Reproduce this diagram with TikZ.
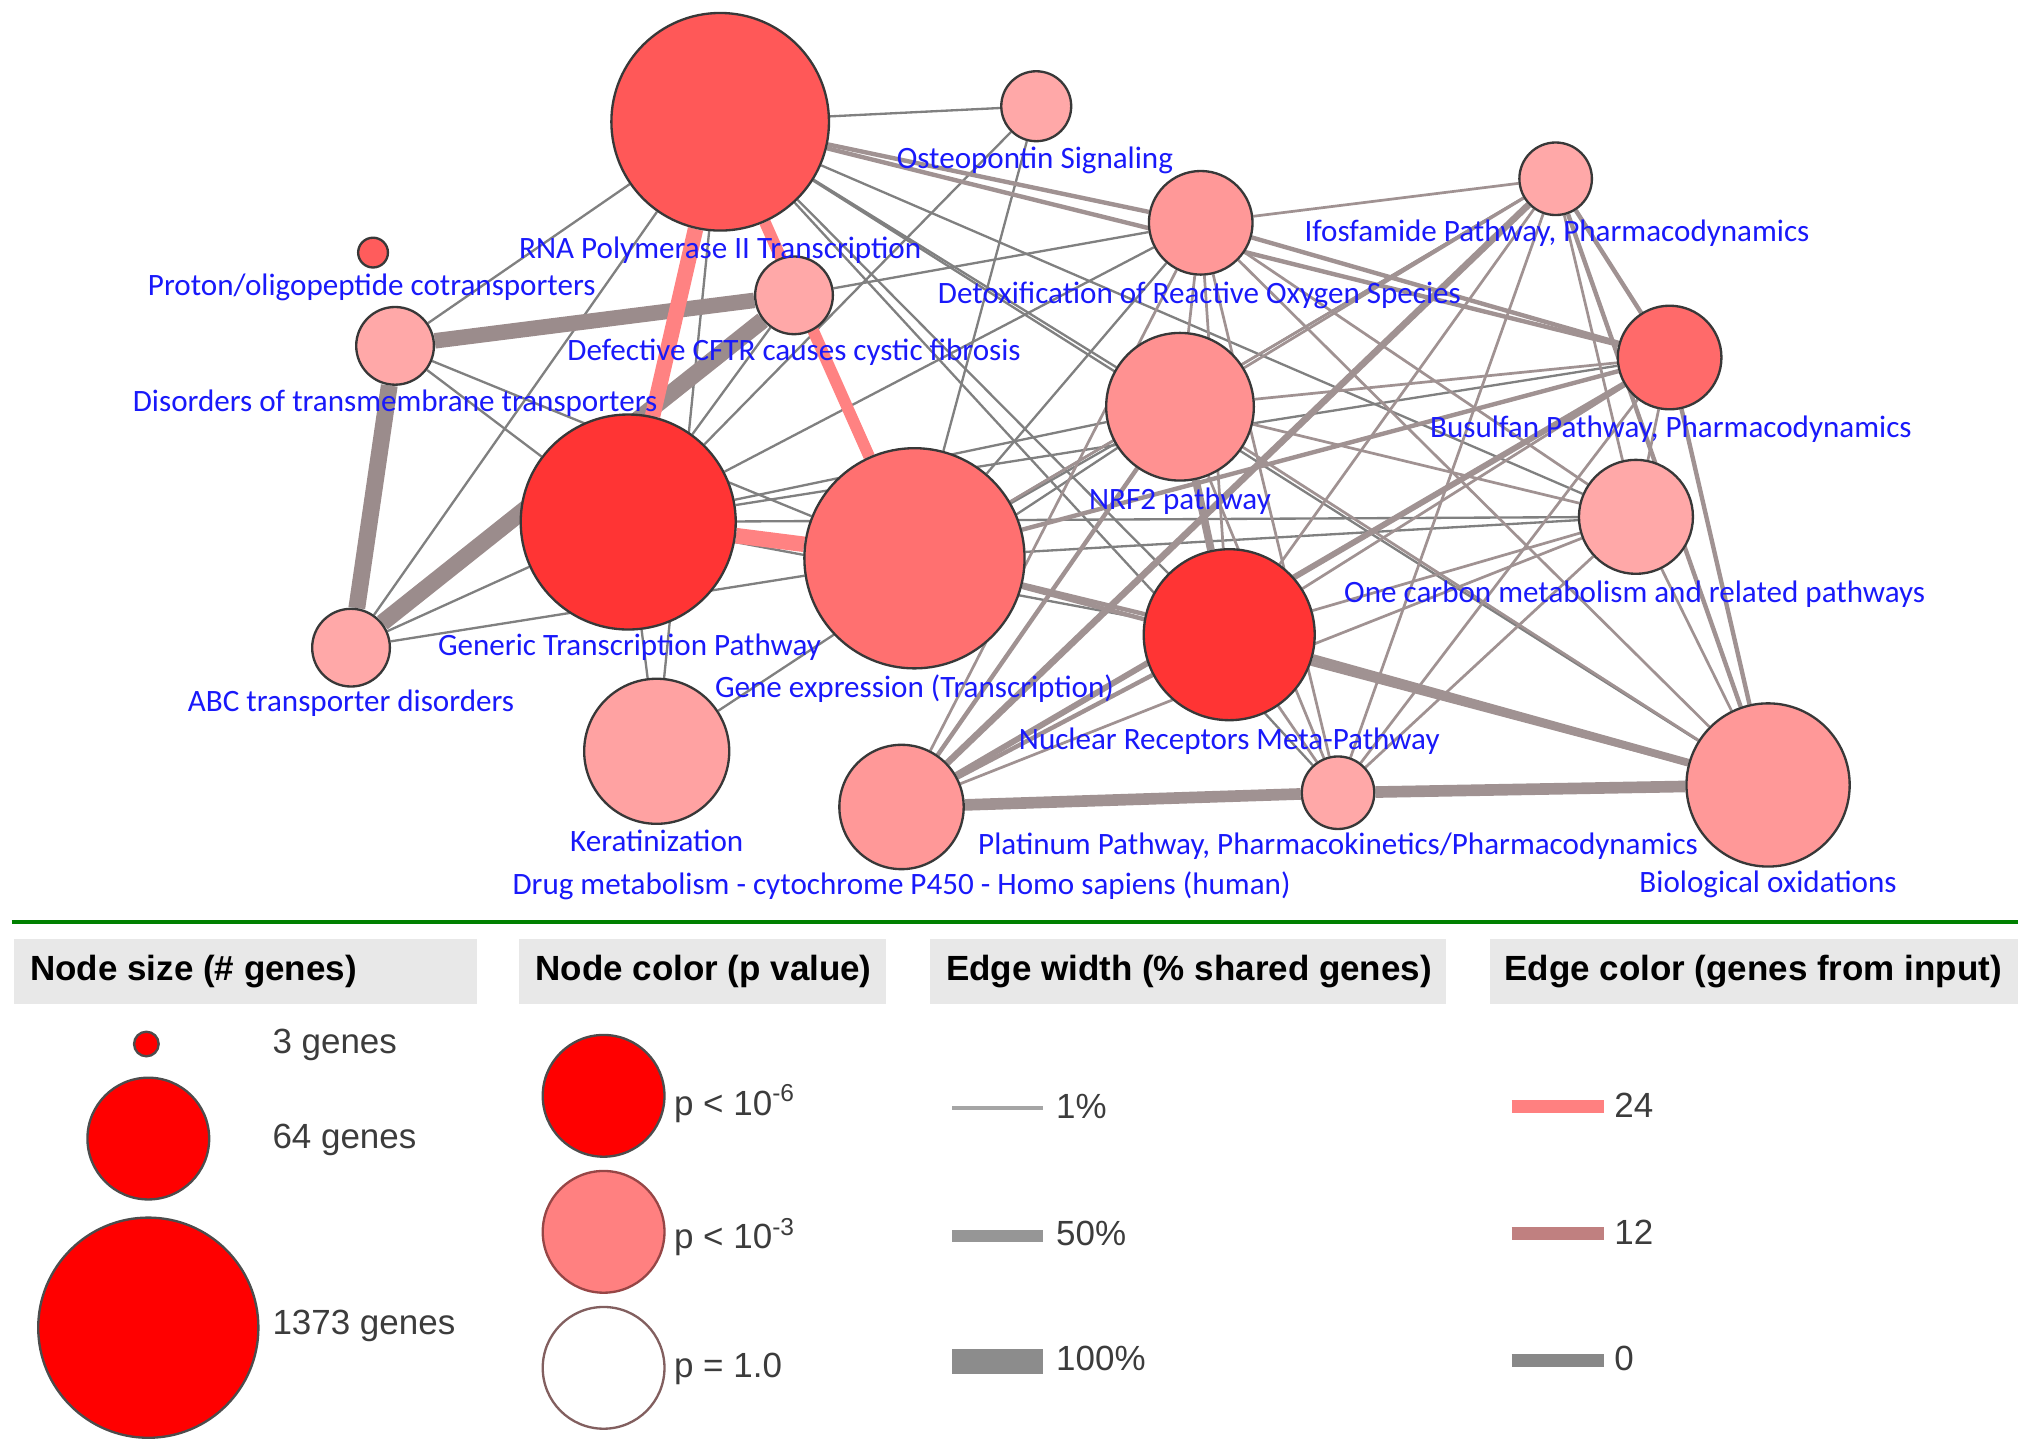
\documentclass[tikz,border=0pt]{standalone}
\usepackage{fontspec}
\setmainfont{Liberation Sans}
\newfontfamily\lblfont{Carlito}
\usetikzlibrary{backgrounds}
\definecolor{lblblue}{RGB}{25,25,250}
\definecolor{egray}{RGB}{128,128,128}
\definecolor{ebrown}{RGB}{160,146,146}
\definecolor{ethk}{RGB}{155,140,140}
\definecolor{epk}{RGB}{255,130,130}
\definecolor{cRna}{RGB}{255,88,88}
\definecolor{cGen}{RGB}{255,52,52}
\definecolor{cExp}{RGB}{255,112,112}
\definecolor{cNuc}{RGB}{255,52,52}
\definecolor{cBus}{RGB}{255,106,106}
\definecolor{cPro}{RGB}{255,92,92}
\definecolor{cLt}{RGB}{255,168,168}
\definecolor{cKer}{RGB}{255,162,162}
\definecolor{cMid}{RGB}{255,152,152}
\definecolor{cNrf}{RGB}{255,145,145}
\definecolor{hdrgray}{RGB}{232,232,232}
\definecolor{legtxt}{RGB}{60,60,60}
\definecolor{gline}{RGB}{0,128,0}
\definecolor{lgr}{RGB}{255,0,0}
\definecolor{lpk}{RGB}{255,128,128}
\definecolor{lpkb}{RGB}{150,70,70}
\definecolor{lwhb}{RGB}{130,95,95}
\definecolor{lcolA}{RGB}{255,128,128}
\definecolor{lcolB}{RGB}{192,128,128}
\definecolor{lcolC}{RGB}{136,136,136}
\definecolor{lwA}{RGB}{165,165,165}
\definecolor{lwB}{RGB}{150,150,150}
\definecolor{lwC}{RGB}{140,140,140}
\begin{document}
\begin{tikzpicture}[x=0.5pt,y=-0.5pt,
  nd/.style 2 args={circle, draw=black!78, line width=0.9pt, fill=#1, minimum size=#2pt, inner sep=0pt},
  lbl/.style={font=\lblfont\fontsize{12}{14}\selectfont, text=lblblue, inner sep=0pt},
  ethin/.style={draw=egray, line width=0.9pt},
  ethinb/.style={draw=ebrown, line width=1.05pt},
  emed/.style={draw=ebrown, line width=1.7pt},
  ewide/.style={draw=ebrown, line width=#1},
  ethick/.style={draw=ethk, line width=#1},
  epink/.style={draw=epk, line width=#1},
  hdr/.style={font=\bfseries\fontsize{13.5}{16}\selectfont, text=black, anchor=west, inner sep=0pt},
  leg/.style={font=\fontsize{13.5}{16}\selectfont, text=legtxt, anchor=west, inner sep=0pt}]
\useasboundingbox (0,0) rectangle (1568,1121);

% ---------- network nodes ----------
\node[nd={cRna}{84}] (R) at (556,94) {};
\node[nd={cLt}{27}] (O) at (800,82) {};
\node[nd={cPro}{11.5}] (P) at (288,195) {};
\node[nd={cLt}{30}] (C) at (613,228) {};
\node[nd={cLt}{30}] (D) at (305,267) {};
\node[nd={cGen}{83}] (G) at (485,403) {};
\node[nd={cExp}{85}] (E) at (706,431) {};
\node[nd={cLt}{30}] (A) at (271,500) {};
\node[nd={cKer}{56}] (K) at (507,580) {};
\node[nd={cMid}{48}] (M) at (696,623) {};
\node[nd={cLt}{28}] (L) at (1033,612) {};
\node[nd={cMid}{63}] (B) at (1365,606) {};
\node[nd={cNuc}{66}] (N) at (949,490) {};
\node[nd={cNrf}{57}] (F) at (911,314) {};
\node[nd={cMid}{40}] (X) at (927,172) {};
\node[nd={cLt}{28}] (I) at (1201,138) {};
\node[nd={cBus}{40}] (U) at (1289,276) {};
\node[nd={cLt}{44}] (Q) at (1263,399) {};

% ---------- edges ----------
\begin{pgfonlayer}{background}
\foreach \a/\b in {R/O,R/D,R/A,R/K,D/G,D/E,A/G,A/E,C/E,C/G,C/X,O/G,O/E,G/K,K/F,G/X,G/F,G/U,G/Q,G/N,E/F,E/X,E/Q,E/I,R/Q,R/F,R/N,R/L,R/B}
  \draw[ethin] (\a) -- (\b);
\foreach \a/\b in {M/Q,M/X,L/N,L/F,L/Q,L/U,L/I,L/X,N/Q,N/U,N/I,N/X,F/X,F/U,F/Q,F/I,F/B,X/I,X/Q,X/B,I/Q,U/Q,Q/B,I/E}
  \draw[ethinb] (\a) -- (\b);
\foreach \a/\b in {R/X,R/U,E/U,E/N,E/B,M/F,M/N,I/U,I/B,U/B,X/U}
  \draw[emed] (\a) -- (\b);
\draw[ewide=2.3pt] (M) -- (U);
\draw[ewide=2.6pt] (M) -- (I);
\draw[ewide=3pt] (N) -- (F);
\draw[ewide=3pt] (N) -- (B);
\draw[ewide=4.5pt] (M) -- (L);
\draw[ewide=4.5pt] (L) -- (B);
\draw[ethick=6pt] (D) -- (C);
\draw[ethick=6.5pt] (A) -- (C);
\draw[ethick=6.5pt] (D) -- (A);
\draw[epink=6pt] (R) -- (G);
\draw[epink=4.5pt] (R) -- (E);
\draw[epink=6pt] (G) -- (E);
\end{pgfonlayer}

% ---------- labels ----------
\node[lbl] (lO) at (799,124) {Osteopontin Signaling};
\node[lbl] (lR) at (556,193) {RNA Polymerase II Transcription};
\node[lbl] (lP) at (287,222) {Proton/oligopeptide cotransporters};
\node[lbl] (lC) at (613,272) {Defective CFTR causes cystic fibrosis};
\node[lbl] (lD) at (305,311) {Disorders of transmembrane transporters};
\node[lbl] (lX) at (926,228) {Detoxification of Reactive Oxygen Species};
\node[lbl] (lI) at (1202,180) {Ifosfamide Pathway, Pharmacodynamics};
\node[lbl] (lU) at (1290,331) {Busulfan Pathway, Pharmacodynamics};
\node[lbl] (lF) at (911,387) {NRF2 pathway};
\node[lbl] (lQ) at (1262,459) {One carbon metabolism and related pathways};
\node[lbl] (lG) at (486,500) {Generic Transcription Pathway};
\node[lbl] (lA) at (271,543) {ABC transporter disorders};
\node[lbl] (lE) at (706,532) {Gene expression (Transcription)};
\node[lbl] (lN) at (949,572) {Nuclear Receptors Meta-Pathway};
\node[lbl] (lK) at (507,649) {Keratinization};
\node[lbl] (lL) at (1033,653) {Platinum Pathway, Pharmacokinetics/Pharmacodynamics};
\node[lbl] (lM) at (696,684) {Drug metabolism - cytochrome P450 - Homo sapiens (human)};
\node[lbl] (lB) at (1365,683) {Biological oxidations};

% ---------- legend ----------
\coordinate (g1) at (9,712);
\coordinate (g2) at (1558,712);
\draw[gline, line width=1.5pt] (g1) -- (g2);

\fill[hdrgray] (11,725) rectangle (368,775);
\fill[hdrgray] (401,725) rectangle (684,775);
\fill[hdrgray] (718,725) rectangle (1116,775);
\fill[hdrgray] (1150,725) rectangle (1558,775);
\node[hdr] (h1) at (23,750) {Node size (\# genes)};
\node[hdr] (h2) at (413,750) {Node color (p value)};
\node[hdr] (h3) at (730,750) {Edge width (\% shared genes)};
\node[hdr] (h4) at (1161,750) {Edge color (genes from input)};

\node[nd={lgr}{9.5}, draw=black!70] (s1) at (113,806) {};
\node[nd={lgr}{47}, draw=black!70] (s2) at (114.5,879) {};
\node[nd={lgr}{85}, draw=black!70] (s3) at (114.5,1025) {};
\node[leg] (t1) at (210,807) {3 genes};
\node[leg] (t2) at (210,880) {64 genes};
\node[leg] (t3) at (210,1024) {1373 genes};

\node[nd={lgr}{47}, draw=black!70] (c1) at (466,846) {};
\node[nd={lpk}{47}, draw=lpkb] (c2) at (466,951) {};
\node[nd={white}{47}, draw=lwhb] (c3) at (466,1056) {};
\node[leg] (p1) at (520,852) {p < 10\textsuperscript{-6}};
\node[leg] (p2) at (520,955) {p < 10\textsuperscript{-3}};
\node[leg] (p3) at (520,1057) {p = 1.0};

\coordinate (w1a) at (735,855.5); \coordinate (w1b) at (805,855.5);
\coordinate (w2a) at (735,954); \coordinate (w2b) at (805,954);
\coordinate (w3a) at (735,1051); \coordinate (w3b) at (805,1051);
\draw[lwA, line width=1.3pt] (w1a) -- (w1b);
\draw[lwB, line width=4.5pt] (w2a) -- (w2b);
\draw[lwC, line width=9.5pt] (w3a) -- (w3b);
\node[leg] (q1) at (815,854) {1\%};
\node[leg] (q2) at (815,952) {50\%};
\node[leg] (q3) at (815,1049) {100\%};

\coordinate (k1a) at (1167,854.5); \coordinate (k1b) at (1238,854.5);
\coordinate (k2a) at (1167,952); \coordinate (k2b) at (1238,952);
\coordinate (k3a) at (1167,1050); \coordinate (k3b) at (1238,1050);
\draw[lcolA, line width=5pt] (k1a) -- (k1b);
\draw[lcolB, line width=5pt] (k2a) -- (k2b);
\draw[lcolC, line width=5pt] (k3a) -- (k3b);
\node[leg] (r1) at (1246,853) {24};
\node[leg] (r2) at (1246,951) {12};
\node[leg] (r3) at (1246,1049) {0};
\end{tikzpicture}
\end{document}
